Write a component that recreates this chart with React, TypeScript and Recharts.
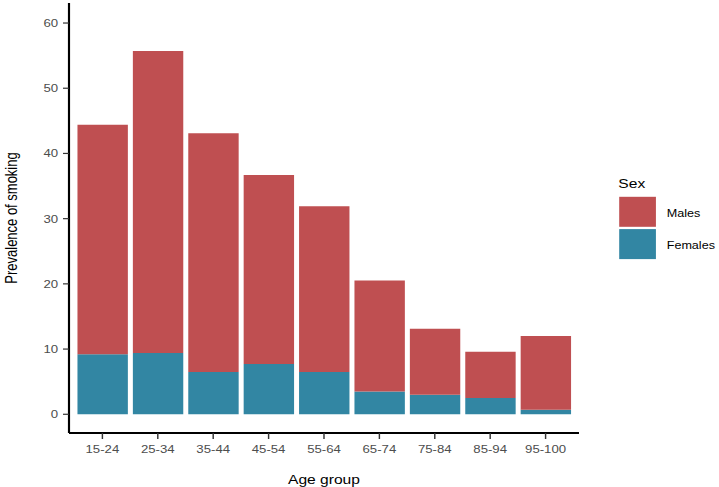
import React from 'react';
import { BarChart, Bar, XAxis, YAxis, Legend, Label } from 'recharts';

const ageGroups = ['15-24', '25-34', '35-44', '45-54', '55-64', '65-74', '75-84', '85-94', '95-100'];
const femalesPrevalence = [9.2, 9.4, 6.5, 7.7, 6.5, 3.5, 3.0, 2.5, 0.7];
const malesPrevalence = [35.2, 46.3, 36.6, 29.0, 25.4, 17.0, 10.1, 7.1, 11.3];
const yTicks = [0, 10, 20, 30, 40, 50, 60];
const legendOrder = ['Males', 'Females'];

const data = ageGroups.map((age, i) => ({
  age,
  Females: femalesPrevalence[i],
  Males: malesPrevalence[i],
}));

const RED = '#BF4F51';
const BLUE = '#3286A3';
const FONT = '"Liberation Sans", Arial, Helvetica, sans-serif';
const SX = 1.2;
const W = 719 / SX;
const H = 487;

const colorOf: Record<string, string> = { Males: RED, Females: BLUE };

const LegendBox = () => (
  <svg width={100} height={100} style={{ display: 'block', overflow: 'visible' }}>
    <text x={10.3} y={23.3} fontSize={13} fill="#000" fontFamily={FONT}>Sex</text>
    {legendOrder.map((name, i) => (
      <g key={name}>
        <rect x={11} y={31.8 + i * 32.3} width={30.6} height={30} fill={colorOf[name]} />
        <text x={50.6} y={51.7 + i * 32.6} fontSize={10.5} fill="#000" fontFamily={FONT}>{name}</text>
      </g>
    ))}
  </svg>
);

export default function App() {
  return (
    <div style={{ position: 'absolute', left: 0, top: 0, width: W, height: H, transform: `scaleX(${SX})`, transformOrigin: '0 0' }}>
      <BarChart
        width={W}
        height={H}
        data={data}
        margin={{ top: 3, right: W - 482.5, bottom: 0, left: 0 }}
        barCategoryGap="5%"
        style={{ fontFamily: FONT }}
      >
        <XAxis
          dataKey="age"
          height={54}
          padding={{ left: 4.75, right: 4.75 }}
          tickSize={6}
          tickMargin={6}
          tick={{ fill: '#4D4D4D', fontSize: 11, fontFamily: FONT }}
          tickLine={{ stroke: '#333', strokeWidth: 1.2 }}
          axisLine={{ stroke: '#000', strokeWidth: 2 }}
        >
          <Label
            content={() => (
              <text x={270} y={484} textAnchor="middle" fontSize={13} fill="#000" fontFamily={FONT}>
                Age group
              </text>
            )}
          />
        </XAxis>
        <YAxis
          type="number"
          width={57.5}
          domain={[-2.87, 63.07]}
          ticks={yTicks}
          interval={0}
          tickSize={5}
          tickMargin={4}
          tick={{ fill: '#4D4D4D', fontSize: 11, fontFamily: FONT }}
          tickLine={{ stroke: '#333', strokeWidth: 1.2 }}
          axisLine={{ stroke: '#000', strokeWidth: 1.8 }}
        >
          <Label
            content={() => (
              <text
                x={13.9}
                y={218}
                transform="rotate(-90 13.9 218)"
                textAnchor="middle"
                fontSize={13}
                fill="#000"
                fontFamily={FONT}
              >
                Prevalence of smoking
              </text>
            )}
          />
        </YAxis>
        <Legend
          layout="vertical"
          align="center"
          verticalAlign="middle"
          wrapperStyle={{ position: 'absolute', left: 505, top: 165, width: 100, height: 100 }}
          content={() => <LegendBox />}
        />
        <Bar dataKey="Females" stackId="s" fill={BLUE} isAnimationActive={false} />
        <Bar dataKey="Males" stackId="s" fill={RED} isAnimationActive={false} />
      </BarChart>
    </div>
  );
}
